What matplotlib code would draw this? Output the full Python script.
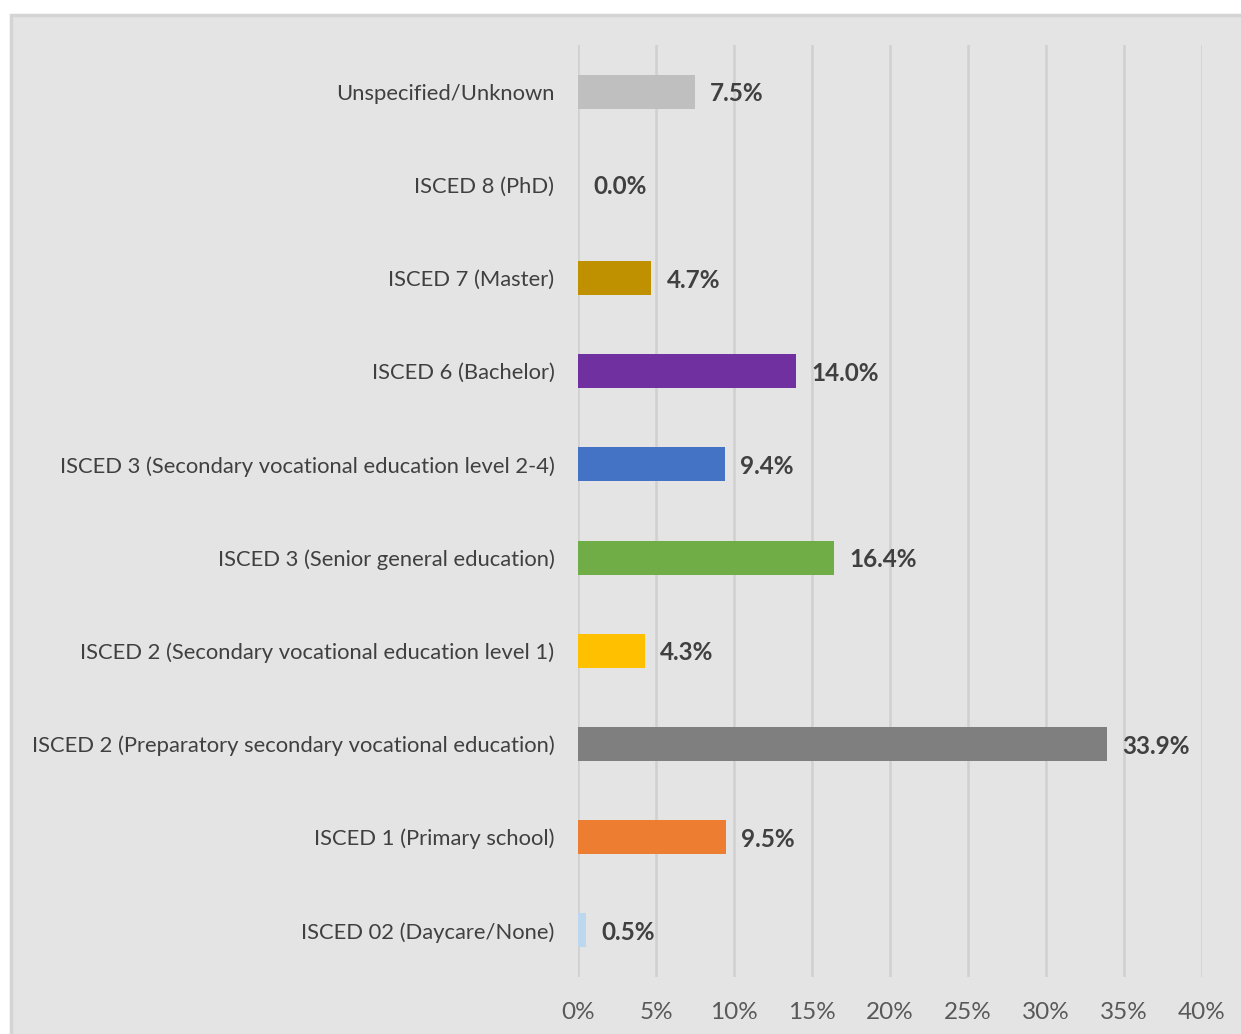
import matplotlib.pyplot as plt
from matplotlib.patches import Rectangle
from matplotlib.ticker import PercentFormatter

plt.rcParams['font.family'] = ['Lato', 'DejaVu Sans']

# education levels, bottom to top
categories = [
    'ISCED 02 (Daycare/None)',
    'ISCED 1 (Primary school)',
    'ISCED 2 (Preparatory secondary vocational education)',
    'ISCED 2 (Secondary vocational education level 1)',
    'ISCED 3 (Senior general education)',
    'ISCED 3 (Secondary vocational education level 2-4)',
    'ISCED 6 (Bachelor)',
    'ISCED 7 (Master)',
    'ISCED 8 (PhD)',
    'Unspecified/Unknown',
]
shares = [0.5, 9.5, 33.9, 4.3, 16.4, 9.4, 14.0, 4.7, 0.0, 7.5]
colors = ['#BDD7EE', '#ED7D31', '#7F7F7F', '#FFC000', '#70AD47',
          '#4472C4', '#7030A0', '#BF9000', '#A5A5A5', '#BFBFBF']
xticks = [0, 5, 10, 15, 20, 25, 30, 35, 40]

W, H = 1241, 1034
fig = plt.figure(figsize=(W / 100, H / 100), dpi=100)
fig.patch.set_facecolor('white')

# grey chart area with a light border, running off the right and bottom
fig.patches.append(Rectangle((11 / W, -0.05), 1.1, 1 - 15 / H + 0.05,
                             transform=fig.transFigure, facecolor='#E4E4E4',
                             edgecolor='#D4D4D4', linewidth=2.5, zorder=-10))

ax = fig.add_axes([578 / W, 1 - 977 / H, 624 / W, 932 / H])
ax.set_facecolor('none')

y = range(len(categories))
ax.barh(y, shares, height=0.365, color=colors, zorder=3)
for yi, v in zip(y, shares):
    ax.annotate(f'{v:.1f}%', (v, yi), xytext=(11, -1.5), textcoords='offset points',
                va='center', ha='left', fontsize=17.5, fontweight='bold',
                color='#404040')

ax.set_xlim(0, 40)
ax.set_ylim(-0.5, len(categories) - 0.5)
ax.set_xticks(xticks)
ax.xaxis.set_major_formatter(PercentFormatter(decimals=0))
ax.set_yticks(list(y))
ax.set_yticklabels(categories)
ax.grid(axis='x', color='#D0D0D0', linewidth=1.8, zorder=0)
ax.tick_params(axis='x', length=0, pad=18, labelsize=17.5, labelcolor='#595959')
ax.tick_params(axis='y', length=0, pad=17, labelsize=15.8, labelcolor='#404040')
for s in ax.spines.values():
    s.set_visible(False)

fig.savefig('out.png', dpi=100)
